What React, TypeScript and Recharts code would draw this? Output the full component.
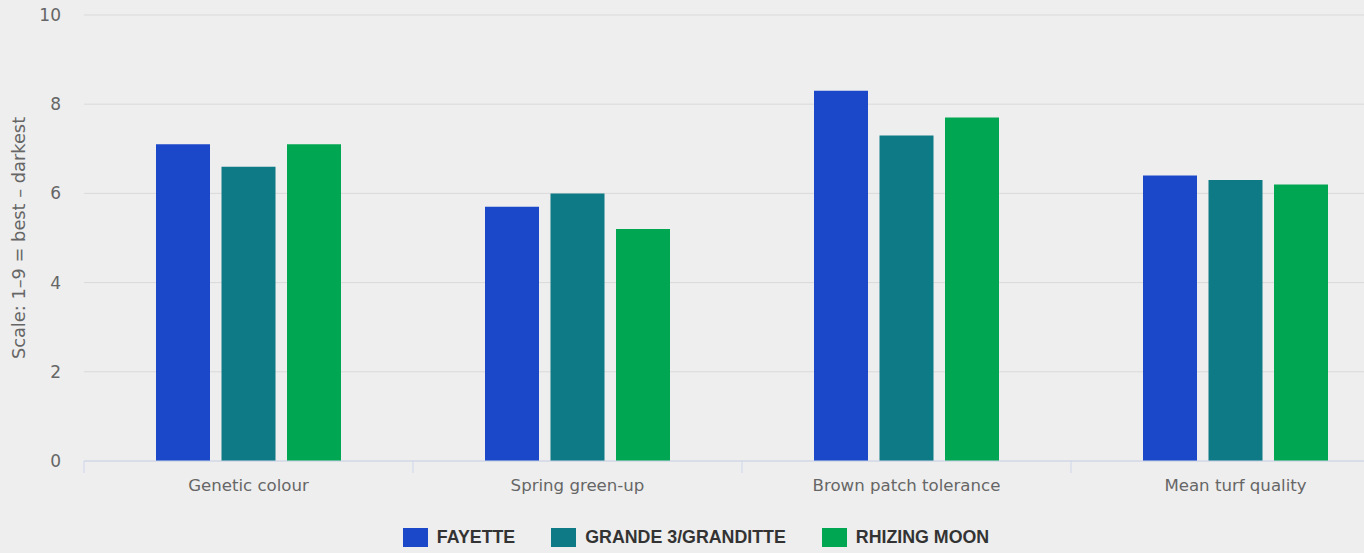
import React from "react";
import {
  BarChart,
  Bar,
  XAxis,
  YAxis,
  CartesianGrid,
  Legend,
  Label,
} from "recharts";

const categories = [
  "Genetic colour",
  "Spring green-up",
  "Brown patch tolerance",
  "Mean turf quality",
];
const fayette = [7.1, 5.7, 8.3, 6.4];
const grande = [6.6, 6.0, 7.3, 6.3];
const rhizing = [7.1, 5.2, 7.7, 6.2];
const yTicks = [0, 2, 4, 6, 8, 10];

const seriesNames = ["FAYETTE", "GRANDE 3/GRANDITTE", "RHIZING MOON"];
const seriesKeys = ["fayette", "grande", "rhizing"];
const seriesColors = ["#1a48c9", "#0d7a86", "#00a651"];

const data = categories.map((c, i) => ({
  name: c,
  fayette: fayette[i],
  grande: grande[i],
  rhizing: rhizing[i],
}));

const AXIS_FONT = "'DejaVu Sans', sans-serif";
const AXIS_LINE = "#ccd6eb";

const XTick = (props: any) => {
  const { x, y, payload, index, visibleTicksCount, width } = props;
  const count = visibleTicksCount || categories.length;
  const half =
    payload && typeof payload.offset === "number" && payload.offset > 0
      ? payload.offset
      : width / count / 2;
  const top = y - 12;
  return (
    <g>
      <line x1={x - half} x2={x - half} y1={top} y2={y} stroke={AXIS_LINE} strokeWidth={1} />
      {index === count - 1 && (
        <line x1={x + half} x2={x + half} y1={top} y2={y} stroke={AXIS_LINE} strokeWidth={1} />
      )}
      <text
        x={x}
        y={y + 18}
        textAnchor="middle"
        fill="#666666"
        fontSize={16.6}
        fontFamily={AXIS_FONT}
      >
        {payload.value}
      </text>
    </g>
  );
};

const YTitle = (props: any) => {
  const vb = props.viewBox || {};
  const cx = 18;
  const cy = (vb.y || 0) + (vb.height || 0) / 2;
  return (
    <text
      x={cx}
      y={cy}
      transform={`rotate(-90, ${cx}, ${cy})`}
      textAnchor="middle"
      dominantBaseline="central"
      fill="#666666"
      fontSize={17.8}
      fontFamily={AXIS_FONT}
    >
      Scale: 1–9 = best – darkest
    </text>
  );
};

const LegendContent = () => (
  <div
    style={{
      display: "flex",
      justifyContent: "center",
      alignItems: "center",
      height: 25,
    }}
  >
    {seriesNames.map((n, i) => (
      <div
        key={n}
        style={{
          display: "flex",
          alignItems: "center",
          marginLeft: i === 0 ? 0 : 36,
        }}
      >
        <div
          style={{
            width: 25,
            height: 19,
            background: seriesColors[i],
            marginRight: 9,
          }}
        />
        <span
          style={{
            fontFamily: "'Liberation Sans', Arial, sans-serif",
            fontWeight: 700,
            fontSize: 17.8,
            color: "#333333",
            lineHeight: "25px",
          }}
        >
          {n}
        </span>
      </div>
    ))}
  </div>
);

export default function App() {
  return (
    <div
      style={{
        position: "fixed",
        left: 0,
        top: 0,
        width: 1364,
        height: 553,
        overflow: "hidden",
        background: "#eeeeee",
      }}
    >
      <BarChart
        width={1400}
        height={553}
        data={data}
        margin={{ top: 15, right: 0, left: 0, bottom: 3 }}
        barSize={54}
        barGap={11.5}
      >
        <CartesianGrid horizontal vertical={false} stroke="#d9d9d9" />
        <XAxis
          dataKey="name"
          height={64}
          axisLine={{ stroke: AXIS_LINE }}
          tickLine={false}
          tickSize={12}
          tickMargin={0}
          tick={<XTick />}
          interval={0}
        />
        <YAxis
          width={84}
          domain={[0, 10]}
          ticks={yTicks}
          axisLine={false}
          tickLine={false}
          tickMargin={17}
          tick={{ fill: "#666666", fontSize: 17, fontFamily: AXIS_FONT }}
        >
          <Label content={<YTitle />} />
        </YAxis>
        <Legend
          verticalAlign="bottom"
          content={<LegendContent />}
          wrapperStyle={{ left: 0, width: 1392 }}
        />
        {seriesKeys.map((k, i) => (
          <Bar
            key={k}
            dataKey={k}
            name={seriesNames[i]}
            fill={seriesColors[i]}
            isAnimationActive={false}
          />
        ))}
      </BarChart>
    </div>
  );
}
